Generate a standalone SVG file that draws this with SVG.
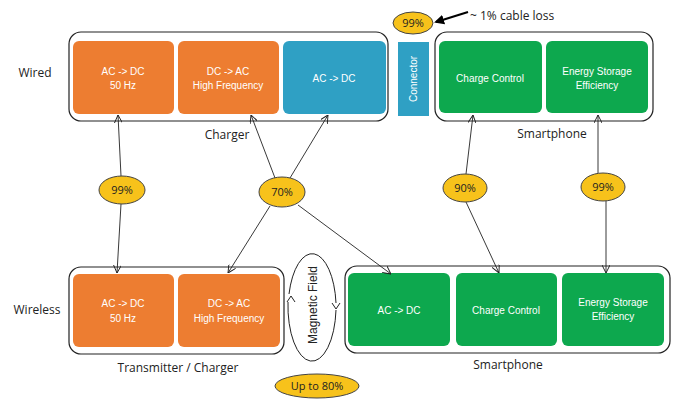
<svg xmlns="http://www.w3.org/2000/svg" width="674" height="399" viewBox="0 0 674 399">
<style>
.outer{fill:#fff;stroke:#222;stroke-width:1.2}
.or{fill:#ED7D31}
.bl{fill:#2FA0C4}
.gr{fill:#0DA84E}
.wt{font-family:"Liberation Sans",Arial,sans-serif;font-size:10px;fill:#fff;text-anchor:middle}
.lb{font-family:"Open Sans","Liberation Sans",sans-serif;font-size:12px;fill:#222;text-anchor:middle}
.pct{fill:#F7C21B;stroke:#444;stroke-width:1}
.pt{font-family:"Open Sans","Liberation Sans",sans-serif;font-size:11px;fill:#222;text-anchor:middle}
.ln{stroke:#222;stroke-width:0.9;fill:none;marker-end:url(#ah)}
</style>
<defs>
<marker id="ah" viewBox="0 0 10 10" refX="10" refY="5" markerWidth="8" markerHeight="8" markerUnits="userSpaceOnUse" orient="auto">
<path d="M0,0 L10,5 L0,10" fill="none" stroke="#222" stroke-width="1.2"/>
</marker>
<marker id="ahb" viewBox="0 0 10 10" refX="8" refY="5" markerWidth="10" markerHeight="10" markerUnits="userSpaceOnUse" orient="auto">
<path d="M0,0 L10,5 L0,10 Z" fill="#000"/>
</marker>
</defs>
<rect width="674" height="399" fill="#fff"/>

<g id="labels">
<text x="35" y="77" class="lb">Wired</text>
<text x="37" y="314" class="lb">Wireless</text>
</g>

<g id="charger">
<rect x="69" y="32" width="319" height="89" rx="12" class="outer"/>
<rect x="73" y="41" width="101" height="73" rx="6" class="or"/>
<text x="123" y="75" class="wt">AC -&gt; DC</text>
<text x="123" y="89" class="wt">50 Hz</text>
<rect x="178" y="41" width="101" height="73" rx="6" class="or"/>
<text x="228" y="75" class="wt">DC -&gt; AC</text>
<text x="228" y="89" class="wt">High Frequency</text>
<rect x="283" y="41" width="103" height="73" rx="6" class="bl"/>
<text x="334" y="82" class="wt">AC -&gt; DC</text>
<text x="227" y="139" class="lb">Charger</text>
</g>

<g id="connector">
<rect x="398" y="42" width="31" height="74" class="bl"/>
<text transform="translate(417,79) rotate(-90)" class="wt">Connector</text>
</g>

<g id="cableloss">
<ellipse cx="413" cy="23" rx="20" ry="11" class="pct"/>
<text x="413" y="27" class="pt">99%</text>
<text x="470" y="20" font-family="'Open Sans','Liberation Sans',sans-serif" font-size="12" fill="#222">~ 1% cable loss</text>
</g>

<g id="phone-wired">
<rect x="435" y="32" width="218" height="89" rx="12" class="outer"/>
<rect x="439" y="41" width="103" height="72" rx="6" class="gr"/>
<text x="490" y="82" class="wt">Charge Control</text>
<rect x="546" y="41" width="102" height="72" rx="6" class="gr"/>
<text x="597" y="75" class="wt">Energy Storage</text>
<text x="597" y="89" class="wt">Efficiency</text>
<text x="552" y="138" class="lb">Smartphone</text>
</g>

<g id="transmitter">
<rect x="69" y="267" width="215" height="87" rx="12" class="outer"/>
<rect x="73" y="274" width="101" height="73" rx="6" class="or"/>
<text x="123" y="307" class="wt">AC -&gt; DC</text>
<text x="123" y="322" class="wt">50 Hz</text>
<rect x="178" y="274" width="102" height="73" rx="6" class="or"/>
<text x="229" y="307" class="wt">DC -&gt; AC</text>
<text x="229" y="322" class="wt">High Frequency</text>
<text x="178" y="372" class="lb">Transmitter / Charger</text>
</g>

<g id="magnetic">
<path d="M289,294 A24,55 0 0 1 336,303 M336,310 A24,55 0 0 1 288,302" fill="none" stroke="#222" stroke-width="1"/>
<path d="M287,302 L291,296 L295,302" fill="none" stroke="#222" stroke-width="1"/>
<path d="M332,303 L336,309 L340,303" fill="none" stroke="#222" stroke-width="1"/>
<text transform="translate(317,305) rotate(-90)" text-anchor="middle" font-family="'Liberation Sans',Arial,sans-serif" font-size="12" fill="#222">Magnetic Field</text>
</g>

<g id="upto80">
<ellipse cx="317" cy="386" rx="42" ry="12" class="pct"/>
<text x="317" y="390" class="pt">Up to 80%</text>
</g>

<g id="phone-wireless">
<rect x="345" y="266" width="325" height="87" rx="12" class="outer"/>
<rect x="348" y="273" width="102" height="73" rx="6" class="gr"/>
<text x="399" y="314" class="wt">AC -&gt; DC</text>
<rect x="456" y="273" width="101" height="73" rx="6" class="gr"/>
<text x="506" y="314" class="wt">Charge Control</text>
<rect x="562" y="273" width="102" height="73" rx="6" class="gr"/>
<text x="613" y="306" class="wt">Energy Storage</text>
<text x="613" y="320" class="wt">Efficiency</text>
<text x="508" y="369" class="lb">Smartphone</text>
</g>

<g id="connectors">
<line x1="121" y1="176" x2="118" y2="115" class="ln"/>
<line x1="121" y1="204" x2="117" y2="273" class="ln"/>
<line x1="275" y1="178" x2="251" y2="115" class="ln"/>
<line x1="290" y1="178" x2="328" y2="115" class="ln"/>
<line x1="270" y1="206" x2="228" y2="273" class="ln"/>
<line x1="298" y1="205" x2="391" y2="274" class="ln"/>
<line x1="466" y1="174" x2="473" y2="115" class="ln"/>
<line x1="466" y1="202" x2="499" y2="273" class="ln"/>
<line x1="598" y1="173" x2="598" y2="115" class="ln"/>
<line x1="606" y1="201" x2="606" y2="273" class="ln"/>
<line x1="468" y1="12" x2="436" y2="22" stroke="#000" stroke-width="2.2" marker-end="url(#ahb)"/>
</g>

<g id="percent-nodes">
<ellipse cx="122" cy="190" rx="23" ry="14" class="pct"/>
<text x="122" y="194" class="pt">99%</text>
<ellipse cx="282" cy="192" rx="23" ry="15" class="pct"/>
<text x="282" y="196" class="pt">70%</text>
<ellipse cx="465" cy="188" rx="22" ry="14" class="pct"/>
<text x="465" y="192" class="pt">90%</text>
<ellipse cx="603" cy="187" rx="22" ry="14" class="pct"/>
<text x="603" y="191" class="pt">99%</text>
</g>
</svg>
